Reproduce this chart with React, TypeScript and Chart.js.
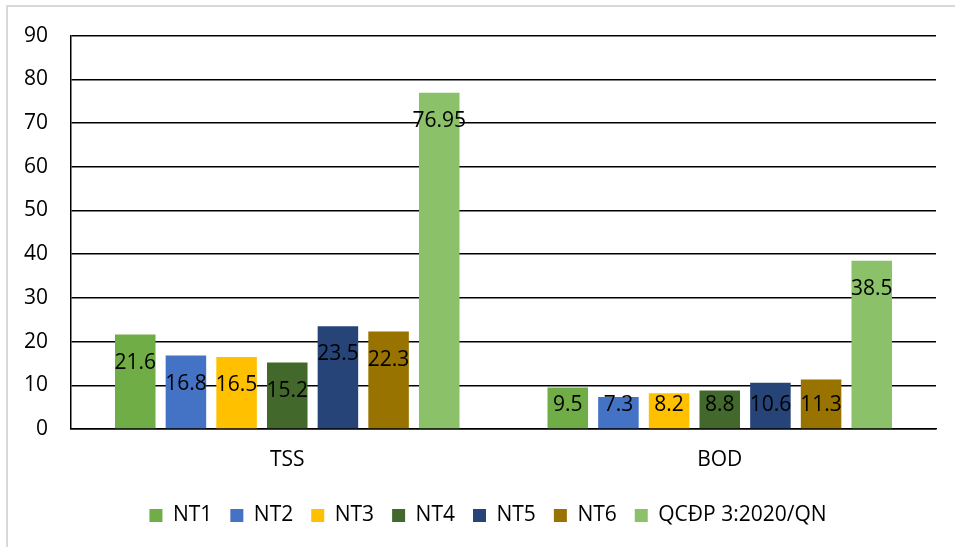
import React, { useEffect, useRef } from "react";
import { Chart, registerables } from "chart.js";

Chart.register(...registerables);

const categories = ["TSS", "BOD"];
const seriesNames = ["NT1", "NT2", "NT3", "NT4", "NT5", "NT6", "QCĐP 3:2020/QN"];
const NT1 = [21.6, 9.5];
const NT2 = [16.8, 7.3];
const NT3 = [16.5, 8.2];
const NT4 = [15.2, 8.8];
const NT5 = [23.5, 10.6];
const NT6 = [22.3, 11.3];
const QC = [76.95, 38.5];
const seriesValues = [NT1, NT2, NT3, NT4, NT5, NT6, QC];
const seriesColors = ["#70AD47", "#4472C4", "#FFC000", "#43682B", "#264478", "#997300", "#8BC168"];
const yTicks = { min: 0, max: 90, step: 10 };

const FONT = "'Open Sans', 'Noto Sans', sans-serif";

const labelPlugin = {
  id: "barLabels",
  afterDatasetsDraw(chart: any) {
    const ctx = chart.ctx;
    ctx.save();
    ctx.font = `21px ${FONT}`;
    ctx.fillStyle = "#000";
    ctx.textAlign = "center";
    ctx.textBaseline = "middle";
    chart.data.datasets.forEach((ds: any, di: number) => {
      const meta = chart.getDatasetMeta(di);
      meta.data.forEach((el: any, i: number) => {
        const v = ds.data[i];
        const y = Math.min(el.y + 28, el.base - 23);
        ctx.fillText(String(v), el.x, y);
      });
    });
    ctx.restore();
  },
};

const legendShift = {
  id: "legendShift",
  afterLayout(chart: any) {
    const l = chart.legend;
    if (l) {
      l.left += 20;
      l.right += 20;
    }
  },
};

export default function App() {
  const ref = useRef<HTMLCanvasElement>(null);
  useEffect(() => {
    if (!ref.current) return;
    const chart = new Chart(ref.current, {
      type: "bar",
      data: {
        labels: categories,
        datasets: seriesNames.map((n, i) => ({
          label: n,
          data: seriesValues[i],
          backgroundColor: seriesColors[i],
          borderWidth: 0,
          categoryPercentage: 0.82,
          barPercentage: 0.8,
        })),
      },
      options: {
        responsive: false,
        animation: false,
        layout: { padding: { top: 35, right: 19, left: 0, bottom: 11 } },
        plugins: {
          tooltip: { enabled: false },
          legend: {
            position: "bottom",
            labels: {
              boxWidth: 13,
              boxHeight: 13,
              padding: 18,
              color: "#000",
              font: { family: FONT, size: 21 },
            },
          },
        },
        scales: {
          x: {
            grid: { display: false, drawTicks: false },
            border: { display: true, color: "#000", width: 1.5 },
            ticks: { color: "#000", padding: 18, font: { family: FONT, size: 21 } },
            afterFit: (s: any) => { s.height = 58; },
          },
          y: {
            min: yTicks.min,
            max: yTicks.max,
            grid: { color: "#000", lineWidth: 1.5, drawTicks: false },
            border: { display: true, color: "#000", width: 1.5 },
            ticks: { stepSize: yTicks.step, color: "#000", padding: 23, font: { family: FONT, size: 21 } },
            afterFit: (s: any) => { s.width = 71; },
          },
        },
      },
      plugins: [labelPlugin, legendShift],
    });
    return () => chart.destroy();
  }, []);
  return (
    <div>
      <div
        style={{
          position: "fixed",
          left: 6,
          top: 5,
          width: 949,
          height: 542,
          borderLeft: "2px solid #d9d9d9",
          borderTop: "2px solid #d9d9d9",
          boxSizing: "border-box",
        }}
      />
      <canvas
        ref={ref}
        width={955}
        height={547}
        style={{ position: "fixed", left: 0, top: 0, width: 955, height: 547 }}
      />
    </div>
  );
}
